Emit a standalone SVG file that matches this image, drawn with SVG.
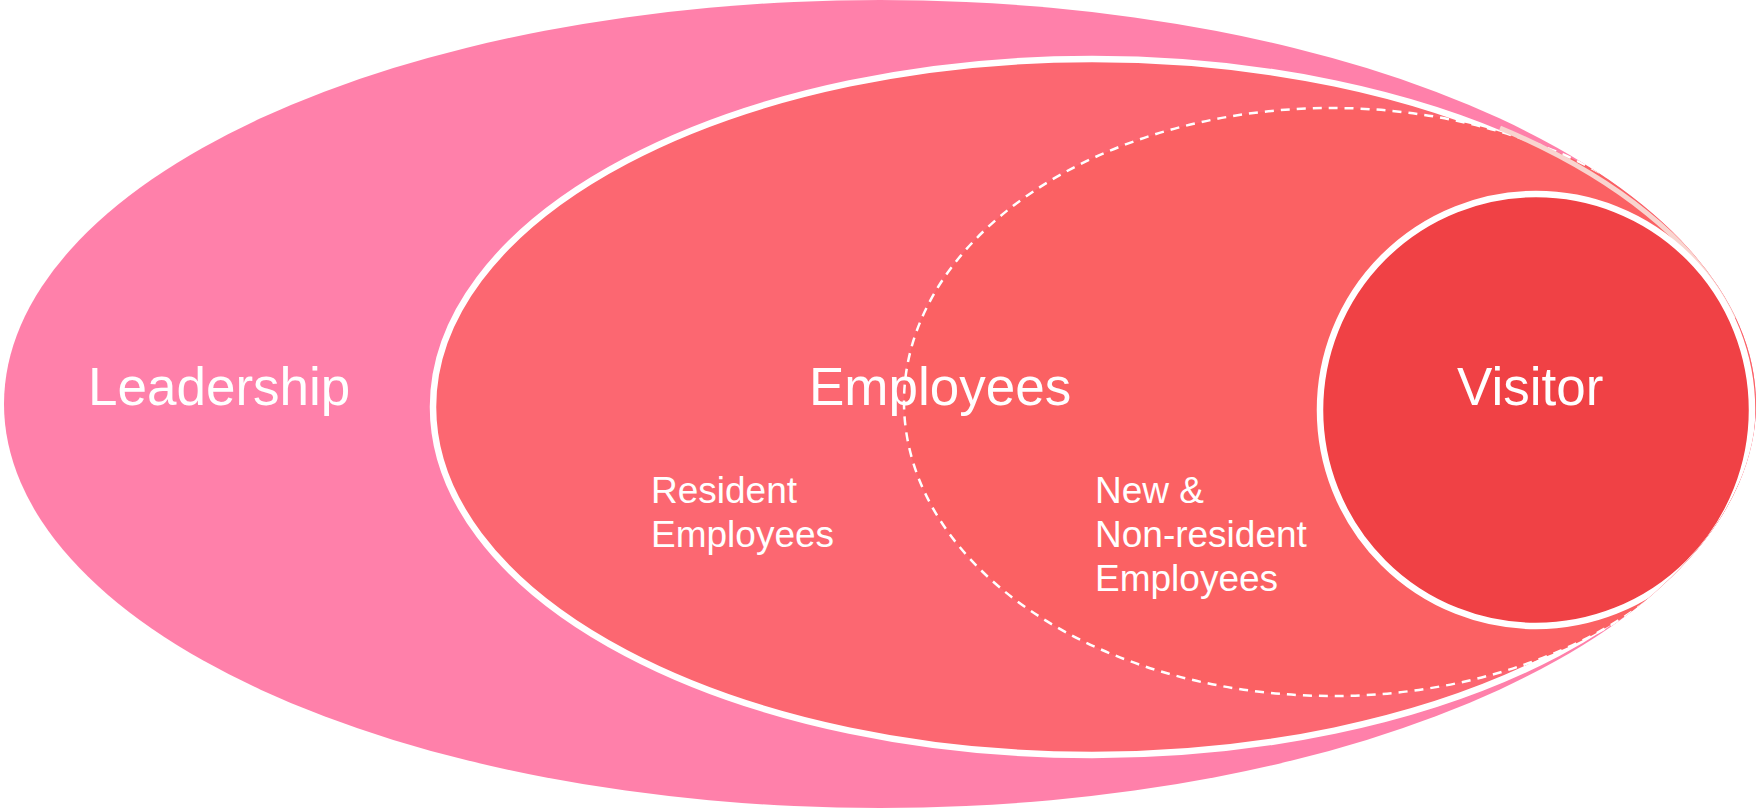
<svg xmlns="http://www.w3.org/2000/svg" width="1761" height="810" viewBox="0 0 1761 810">
  <defs>
    <clipPath id="clipPink">
      <ellipse cx="880" cy="404" rx="876" ry="404"/>
    </clipPath>
    <style>
      .big { font-family: "Liberation Sans", Arial, sans-serif; font-size: 53px; fill: #ffffff; }
      .small { font-family: "Liberation Sans", Arial, sans-serif; font-size: 37px; fill: #ffffff; }
      .outline { stroke: #ffffff; stroke-width: 6.5; }
    </style>
  </defs>
  <rect width="1761" height="810" fill="#ffffff"/>

  <g id="leadership">
    <ellipse cx="880" cy="404" rx="876" ry="404" fill="#FF80AA"/>
    <text class="big" x="88" y="405">Leadership</text>
  </g>

  <g clip-path="url(#clipPink)">
    <g id="employees">
      <ellipse class="outline" cx="1092" cy="407" rx="659" ry="348" fill="#FC6771"/>
    </g>
    <g id="non-resident-area">
      <ellipse cx="1332" cy="402" rx="428" ry="294" fill="#FB6163" stroke="#ffffff" stroke-width="2.5" stroke-dasharray="9 7"/>
      <path d="M 1500 128 A 688 360 0 0 1 1735 318" fill="none" stroke="#F9D4CF" stroke-width="5"/>
    </g>
    <g id="visitor">
      <circle class="outline" cx="1536" cy="410" r="216" fill="#F04145"/>
    </g>
  </g>

  <g id="labels">
    <text class="big" x="809" y="405">Employees</text>
    <text class="big" x="1457" y="405">Visitor</text>
    <text class="small" x="651" y="503">Resident</text>
    <text class="small" x="651" y="547">Employees</text>
    <text class="small" x="1095" y="503">New &amp;</text>
    <text class="small" x="1095" y="547">Non-resident</text>
    <text class="small" x="1095" y="591">Employees</text>
  </g>
</svg>
